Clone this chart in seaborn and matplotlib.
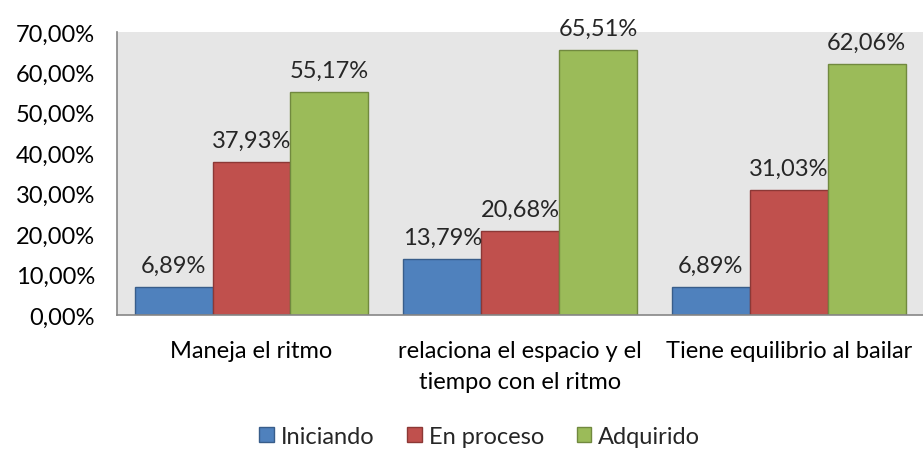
import numpy as np
import pandas as pd
import seaborn as sns
import matplotlib.pyplot as plt
from matplotlib.ticker import FuncFormatter

categorias = ["Maneja el ritmo",
              "relaciona el espacio y el\ntiempo con el ritmo",
              "Tiene equilibrio al bailar"]
niveles = ["Iniciando", "En proceso", "Adquirido"]
iniciando = [6.89, 13.79, 6.89]
en_proceso = [37.93, 20.68, 31.03]
adquirido = [55.17, 65.51, 62.06]

colores = ["#4F81BD", "#C0504D", "#9BBB59"]
bordes = ["#385D8A", "#8C3836", "#71893F"]

df = pd.DataFrame({
    "categoria": categorias * 3,
    "nivel": [n for n in niveles for _ in categorias],
    "valor": iniciando + en_proceso + adquirido,
})

sns.set_style("white")
plt.rcParams["font.family"] = ["Lato", "DejaVu Sans"]

fig = plt.figure(figsize=(9.23, 4.52), dpi=100)
ax = fig.add_axes([0.127, 0.301, 0.873, 0.626])

sns.barplot(data=df, x="categoria", y="valor", hue="nivel",
            order=categorias, hue_order=niveles, palette=colores,
            width=0.87, saturation=1, ax=ax)

ax.set_facecolor("#E6E6E6")
ax.set_ylim(0, 70)
ax.set_xlim(-0.5, 2.5)
ax.set_yticks(np.arange(0, 71, 10))
ax.yaxis.set_major_formatter(FuncFormatter(lambda v, p: f"{v:.2f}%".replace(".", ",")))
ax.set_xticks(range(len(categorias)), categorias, linespacing=1.6)
ax.set_xlabel("")
ax.set_ylabel("")
ax.tick_params(axis="both", labelsize=17, length=0, colors="black")
ax.tick_params(axis="y", pad=16)
ax.tick_params(axis="x", pad=18)

for s in ["top", "right"]:
    ax.spines[s].set_visible(False)
for s in ["left", "bottom"]:
    ax.spines[s].set_color("#868686")
    ax.spines[s].set_linewidth(1.2)

for cont, ec in zip(ax.containers, bordes):
    for b in cont:
        b.set_edgecolor(ec)
        b.set_linewidth(1)
    ax.bar_label(cont, labels=[f"{b.get_height():.2f}%".replace(".", ",") for b in cont],
                 padding=8, fontsize=17)

ax.legend(loc="center", bbox_to_anchor=(0.45, -0.43), ncol=3, frameon=False,
          fontsize=17, handlelength=0.6, handleheight=0.6, handletextpad=0.3,
          columnspacing=1.4)
for h, ec in zip(ax.get_legend().legend_handles, bordes):
    h.set_edgecolor(ec)

plt.savefig("out.png", dpi=100)
plt.close()
